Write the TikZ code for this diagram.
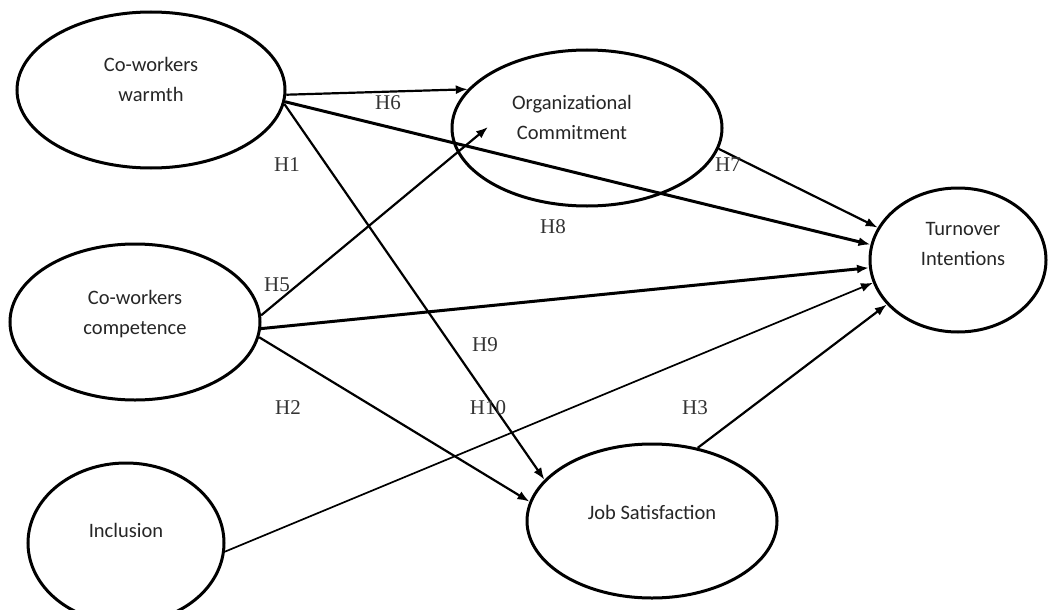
\documentclass[tikz,border=0pt]{standalone}
\usepackage{fontspec}
\setmainfont{Liberation Serif}
\newfontfamily\nodefont{Carlito}
\usetikzlibrary{shapes.geometric,arrows.meta}
\begin{document}
\begin{tikzpicture}[x=1pt,y=-1pt,
  construct/.style={draw, ellipse, line width=3pt, inner sep=0pt},
  ctext/.style={font=\nodefont\fontsize{20.5}{30}\selectfont, align=center, text=black!85},
  hyp/.style={font=\fontsize{21}{22}\selectfont, text=black!80},
  link/.style={line width=2.2pt, -{Latex[length=12pt,width=9pt]}},
  heavy/.style={line width=3pt},
  light/.style={line width=1.7pt}
]
\useasboundingbox (0,0) rectangle (1049,610);
\fill[white] (0,0) rectangle (1049,610);
\clip (0,0) rectangle (1049,610);

\node[construct, minimum width=268pt, minimum height=156pt,
  label={[ctext, yshift=11pt]center:{Co-workers\\warmth}}] (warmth) at (151,90) {};
\node[construct, minimum width=270pt, minimum height=156pt,
  label={[ctext, xshift=-15pt, yshift=11pt]center:{Organizational\\Commitment}}] (OC) at (587,128) {};
\node[construct, minimum width=176pt, minimum height=144pt,
  label={[ctext, xshift=5pt, yshift=16pt]center:{Turnover\\Intentions}}] (TO) at (958,260) {};
\node[construct, minimum width=250pt, minimum height=156pt,
  label={[ctext, yshift=8pt]center:{Co-workers\\competence}}] (comp) at (135,322) {};
\node[construct, minimum width=196pt, minimum height=160pt,
  label={[ctext, yshift=13pt]center:{Inclusion}}] (incl) at (126,543) {};
\node[construct, minimum width=250pt, minimum height=154pt,
  label={[ctext, yshift=9pt]center:{Job Satisfaction}}] (JS) at (652,521) {};

\coordinate (h5end) at (488,127);

\draw[link] (warmth.-2) -- (OC.162);
\draw[link, heavy] (warmth.-5) -- (TO.170.6);
\draw[link] (warmth.-6.5) -- (JS.159.5);
\draw[link] (comp.3) -- (h5end);
\draw[link, heavy] (comp.-3) -- (TO.185);
\draw[link] (comp.-7) -- (JS.171.6);
\draw[link, light] (incl.-5) -- (TO.195.5);
\draw[link] (JS.58) -- (TO.212);
\draw[link] (OC.-9) -- (TO.158.8);

\node[hyp] (h6) at (388,103) {H6};
\node[hyp] (h1) at (287,165) {H1};
\node[hyp] (h5) at (277,285) {H5};
\node[hyp] (h8) at (553,227) {H8};
\node[hyp] (h7) at (728,165) {H7};
\node[hyp] (h9) at (485,345) {H9};
\node[hyp] (h2) at (288,408) {H2};
\node[hyp] (h10) at (488,408) {H10};
\node[hyp] (h3) at (695,408) {H3};
\end{tikzpicture}
\end{document}
